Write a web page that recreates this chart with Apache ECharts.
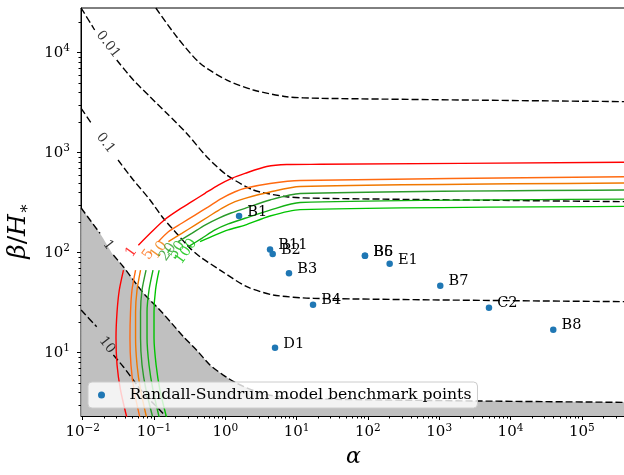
<!DOCTYPE html>
<html>
<head>
<meta charset="utf-8">
<script src="https://cdn.jsdelivr.net/npm/echarts@6/dist/echarts.min.js"></script>
<style>
html, body { margin: 0; padding: 0; background: #fff; }
#main { width: 624px; height: 475px; }
</style>
</head>
<body>
<div id="main"></div>
<script>
// benchmark points, alpha vs beta/H*
const benchNames = ['B1', 'B11', 'B2', 'B3', 'B4', 'D1', 'B6', 'B5', 'E1', 'B7', 'C2', 'B8'];
const benchAlpha = [1.56, 4.24, 4.62, 7.82, 17.0, 4.98, 91, 91, 202, 1035, 4990, 39800];
const benchBeta = [233, 108, 97, 62.2, 30.2, 11.2, 93.3, 93.3, 77.6, 46.8, 28.2, 17.0];
const benchLegend = 'Randall-Sundrum model benchmark points';

// dashed contours (null = gap for the inline label)
const tau0001 = [[0.106, 28000], [0.208, 14450], [0.442, 7830], [1.05, 5330], [2.47, 4240], [7.26, 3630], [21.3, 3500], [4.2e5, 3240]];
const tau001 = [[0.0095, 28000], [0.0147, 16870], null, [0.0300, 8450], [0.0513, 5330], [0.0879, 3630], [0.151, 2480], [0.288, 1560], [0.548, 912], [1.05, 598], [2.47, 424], [7.26, 363], [21.3, 350], [4.2e5, 324]];
const tau01 = [[0.0095, 2780], [0.0132, 1970], null, [0.0313, 845], [0.0513, 533], [0.0879, 337], [0.135, 221], [0.208, 156], [0.320, 111], [0.442, 91.2], [0.843, 67.1], [2.00, 45.7], [4.71, 37.8], [17.1, 35.0], [4.2e5, 32.4]];
const tau1 = [[0.0095, 280], [0.0175, 156], null, [0.0269, 94.8], [0.0371, 72.4], [0.0513, 53.3], [0.0748, 37.8], [0.115, 27.8], [0.177, 19.7], [0.258, 14.5], [0.397, 10.6], [0.610, 7.54], [0.938, 5.98], [1.45, 4.94], [2.61, 4.14], [4.98, 3.69], [21.3, 3.44], [4.2e5, 3.19]];
const tau10 = [[0.0095, 26.7], [0.0157, 18.2], null, [0.0269, 9.49], [0.0371, 7.24], [0.0513, 5.33], [0.0748, 3.78], [0.115, 2.78], [0.177, 1.97]];
const dashLabelText = ['0.01', '0.1', '1', '10'];
const dashLabelAlpha = [0.0227, 0.0209, 0.0227, 0.0219];
const dashLabelBeta = [12080, 1250, 119, 11.9];

// coloured contours
const snr1 = [[0.0418, 2.21], [0.0339, 4.24], [0.0303, 7.54], [0.0293, 14.0], [0.0303, 25.5], [0.0326, 42.4], [0.0373, 67.1], null,
  [0.0603, 119], [0.0929, 162], [0.143, 216], [0.219, 267], [0.338, 324], [0.519, 393], [0.798, 475], [1.23, 555], [1.89, 622], [3.81, 728], [7.26, 762], [21.3, 766], [4.2e5, 802]];
const snr5 = [[0.0637, 2.21], [0.0524, 4.24], [0.0475, 7.54], [0.0460, 14.0], [0.0468, 25.5], [0.0491, 42.4], [0.0551, 67.1], null,
  [0.115, 129], [0.159, 162], [0.245, 197], [0.376, 238], [0.578, 288], [0.891, 350], [1.37, 407], [1.89, 441], [4.24, 492], [11.2, 527], [4.2e5, 575]];
const snr10 = [[0.0791, 2.21], [0.0647, 4.24], [0.0578, 7.54], [0.0551, 14.0], [0.0551, 25.5], [0.0578, 42.4], [0.0647, 67.1], null,
  [0.159, 129], [0.245, 156], [0.376, 189], [0.578, 229], [0.891, 278], [1.37, 324], [1.89, 350], [4.24, 405], [11.2, 459], [4.2e5, 498]];
const snr20 = [[0.0968, 2.21], [0.0773, 4.24], [0.0679, 7.54], [0.0647, 14.0], [0.0647, 25.5], [0.0679, 42.4], [0.0773, 67.1], null,
  [0.219, 129], [0.338, 156], [0.519, 189], [0.798, 221], [1.23, 251], [1.89, 278], [4.24, 337], [11.2, 391], [4.2e5, 424]];
const snr50 = [[0.119, 2.21], [0.0968, 4.24], [0.0851, 7.54], [0.0798, 14.0], [0.0798, 25.5], [0.0851, 42.4], [0.0968, 67.1], null,
  [0.303, 115], [0.467, 139], [0.716, 169], [1.10, 194], [1.89, 221], [4.24, 267], [11.2, 318], [4.2e5, 344]];
const snr100 = [[0.151, 2.21], [0.121, 4.24], [0.107, 7.54], [0.100, 14.0], [0.100, 25.5], [0.105, 42.4], [0.118, 67.1], null,
  [0.442, 129], [0.716, 150], [1.10, 169], [1.89, 189], [4.24, 233], [11.2, 270], [4.2e5, 291]];
const snrLabelText = ['1', '5', '10', '20', '50', '100'];
const snrLabelAlpha = [0.0483, 0.0833, 0.1175, 0.157, 0.210, 0.281];
const snrLabelBeta = [101.6, 95.9, 106.4, 101.6, 106, 102.8];

// axis ticks
const xTicks = [0.01, 0.1, 1, 10, 100, 1000, 10000, 100000];
const yTicks = [10, 100, 1000, 10000];

const xMin = 0.00946, xMax = 4.17e5, yMin = 2.33, yMax = 28000;
const serif = 'DejaVu Serif';
const snrColors = ['#ff0000', '#ff6a10', '#f07800', '#2a9a2a', '#12b012', '#00c400'];

function minorTicks(lo, hi) {
  const out = [];
  for (let e = -3; e <= 6; e++) {
    for (let m = 2; m <= 9; m++) {
      const v = m * Math.pow(10, e);
      if (v > lo && v < hi) out.push(v);
    }
  }
  return out;
}

function powLabel(v) {
  const e = Math.round(Math.log10(v));
  return '{b|10}{s|' + (e < 0 ? '\u2212' + (-e) : e) + '}';
}

function split(pts) {
  const out = [[]];
  pts.forEach(function (p) {
    if (p === null) out.push([]);
    else out[out.length - 1].push(p);
  });
  return out.filter(function (s) { return s.length > 1; });
}

const tickRich = {
  b: { fontFamily: serif, fontSize: 15, color: '#000', lineHeight: 19 },
  s: { fontFamily: serif, fontSize: 10.5, color: '#000', lineHeight: 10, verticalAlign: 'top' }
};

const chart = echarts.init(document.getElementById('main'), null, { renderer: 'canvas' });

const series = [];

// shaded region under the tau = 1 contour
series.push({
  type: 'line',
  data: tau1.filter(function (p) { return p; }),
  symbol: 'none',
  smooth: 0.25,
  lineStyle: { width: 0, opacity: 0 },
  areaStyle: { color: '#c0c0c0', opacity: 1, origin: 'start' },
  silent: true,
  z: 1
});

[tau0001, tau001, tau01, tau1, tau10].forEach(function (c) {
  split(c).forEach(function (seg) {
    series.push({
      type: 'line', data: seg, symbol: 'none', smooth: 0.25, silent: true,
      lineStyle: { color: '#000', width: 1.4, type: [7, 3] }
    });
  });
});

[snr1, snr5, snr10, snr20, snr50, snr100].forEach(function (c, i) {
  split(c).forEach(function (seg) {
    series.push({
      type: 'line', data: seg, symbol: 'none', smooth: 0.25, silent: true,
      lineStyle: { color: snrColors[i], width: 1.4 }
    });
  });
});

// inline contour labels
series.push({
  type: 'scatter', symbolSize: 0, silent: true,
  data: dashLabelText.map(function (t, i) { return { value: [dashLabelAlpha[i], dashLabelBeta[i]], name: t }; }),
  label: { show: true, position: 'inside', formatter: '{b}', rotate: -52, fontFamily: serif, fontSize: 13.5, color: '#000' }
});
series.push({
  type: 'scatter', symbolSize: 0, silent: true,
  data: snrLabelText.map(function (t, i) {
    return { value: [snrLabelAlpha[i], snrLabelBeta[i]], name: t, label: { color: snrColors[i] } };
  }),
  label: { show: true, position: 'inside', formatter: '{b}', rotate: 55, fontFamily: serif, fontSize: 14.5 }
});

series.push({
  name: benchLegend,
  type: 'scatter',
  symbolSize: 6.5,
  itemStyle: { color: '#1f77b4', opacity: 1 },
  data: benchNames.map(function (n, i) { return { value: [benchAlpha[i], benchBeta[i]], name: n }; }),
  label: { show: true, position: 'right', distance: 5, offset: [0, -4], formatter: '{b}', fontFamily: serif, fontSize: 14.5, color: '#000' },
  z: 5
});

const option = {
  animation: false,
  backgroundColor: '#fff',
  grid: { left: 81, top: 8, right: -2, bottom: 59, show: true, borderColor: '#000', borderWidth: 1, outerBoundsMode: 'none' },
  legend: {
    data: [benchLegend],
    left: 88, top: 382,
    padding: [5, 6, 5, 10],
    itemWidth: 24, itemHeight: 7, icon: 'circle',
    backgroundColor: 'rgba(255,255,255,0.8)',
    borderColor: '#cccccc', borderWidth: 1, borderRadius: 4,
    textStyle: { fontFamily: serif, fontSize: 15.7, color: '#000', padding: [0, 0, 0, 11] }
  },
  xAxis: [{
    type: 'log', logBase: 10, min: xMin, max: xMax, position: 'bottom',
    axisLine: { show: true, lineStyle: { color: '#000', width: 1 } },
    axisTick: { show: true, customValues: xTicks, length: 4, lineStyle: { color: '#000' } },
    axisLabel: { customValues: xTicks, formatter: powLabel, margin: 7, rich: tickRich },
    splitLine: { show: false },
    name: 'α', nameLocation: 'middle', nameGap: 30,
    nameTextStyle: { fontFamily: serif, fontStyle: 'italic', fontSize: 22, color: '#000' }
  }, {
    type: 'log', logBase: 10, min: xMin, max: xMax, position: 'bottom',
    axisLine: { show: false },
    axisTick: { show: true, customValues: minorTicks(xMin, xMax), length: 2.5, lineStyle: { color: '#000' } },
    axisLabel: { show: false },
    splitLine: { show: false }
  }],
  yAxis: [{
    type: 'log', logBase: 10, min: yMin, max: yMax, position: 'left',
    axisLine: { show: true, lineStyle: { color: '#000', width: 1 } },
    axisTick: { show: true, customValues: yTicks, length: 4, lineStyle: { color: '#000' } },
    axisLabel: { customValues: yTicks, formatter: powLabel, margin: 11, rich: tickRich },
    splitLine: { show: false },
    name: '{i|β}{n|/}{i|H}{s|∗}', nameLocation: 'middle', nameGap: 43,
    nameTextStyle: {
      padding: [0, 38, 0, 0],
      rich: {
        i: { fontFamily: serif, fontStyle: 'italic', fontSize: 25, color: '#000', lineHeight: 30 },
        n: { fontFamily: serif, fontSize: 25, color: '#000', lineHeight: 30 },
        s: { fontFamily: serif, fontSize: 16, color: '#000', lineHeight: 15, verticalAlign: 'bottom' }
      }
    }
  }, {
    type: 'log', logBase: 10, min: yMin, max: yMax, position: 'left',
    axisLine: { show: false },
    axisTick: { show: true, customValues: minorTicks(yMin, yMax), length: 2.5, lineStyle: { color: '#000' } },
    axisLabel: { show: false },
    splitLine: { show: false }
  }],
  series: series
};

chart.setOption(option);
</script>
</body>
</html>
